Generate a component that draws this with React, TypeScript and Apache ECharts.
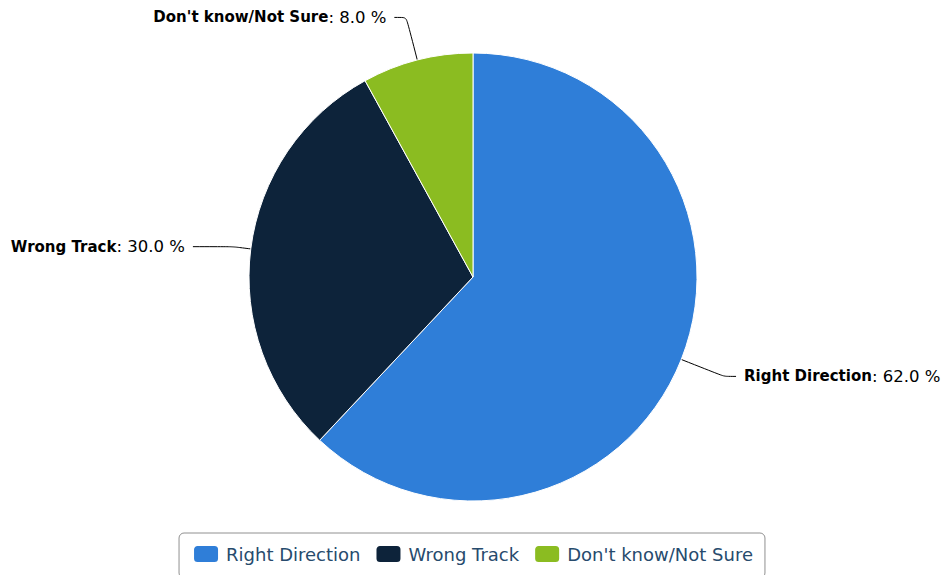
import React, { useEffect, useRef } from "react";
import * as echarts from "echarts";

const categories = ["Right Direction", "Wrong Track", "Don't know/Not Sure"];
const values = [62.0, 30.0, 8.0];
const colors = ["#2f7ed8", "#0d233a", "#8bbc21"];
const lineLengths = [
  [46, 12],
  [18, 40],
  [44, 12],
];

export default function App() {
  const ref = useRef<HTMLDivElement>(null);
  useEffect(() => {
    if (!ref.current) return;
    const chart = echarts.init(ref.current, null, { renderer: "svg" });
    chart.setOption({
      animation: false,
      backgroundColor: "#ffffff",
      color: colors,
      textStyle: { fontFamily: "DejaVu Sans" },
      legend: {
        data: categories,
        left: "center",
        top: 533,
        orient: "horizontal",
        itemWidth: 26,
        itemHeight: 18,
        itemGap: 14,
        icon: "roundRect",
        borderColor: "#909090",
        borderWidth: 1,
        borderRadius: 5,
        padding: [11, 12, 14, 13],
        textStyle: {
          color: "#274b6d",
          fontSize: 18,
          fontFamily: "DejaVu Sans",
          padding: [0, 0, 0, 2],
        },
      },
      series: [
        {
          type: "pie",
          center: [473, 277],
          radius: 224,
          startAngle: 90,
          clockwise: true,
          avoidLabelOverlap: false,
          itemStyle: { borderColor: "#ffffff", borderWidth: 1 },
          label: {
            show: true,
            formatter: (p: any) => `{b|${p.name}}{v|: ${p.value.toFixed(1)} %}`,
            rich: {
              b: { fontWeight: "bold", fontSize: 15, color: "#000000", fontFamily: "DejaVu Sans" },
              v: { fontSize: 16.5, color: "#000000", fontFamily: "DejaVu Sans" },
            },
            distanceToLabelLine: 8,
          },
          labelLine: {
            show: true,
            lineStyle: { color: "#000000", width: 1 },
            smooth: 0.2,
          },
          emphasis: { disabled: true },
          data: categories.map((name, i) => ({
            name,
            value: values[i],
            labelLine: { length: lineLengths[i][0], length2: lineLengths[i][1] },
          })),
        },
      ],
    });
    return () => chart.dispose();
  }, []);
  return (
    <div
      ref={ref}
      style={{ position: "fixed", left: 0, top: 0, width: 945, height: 575 }}
    />
  );
}
